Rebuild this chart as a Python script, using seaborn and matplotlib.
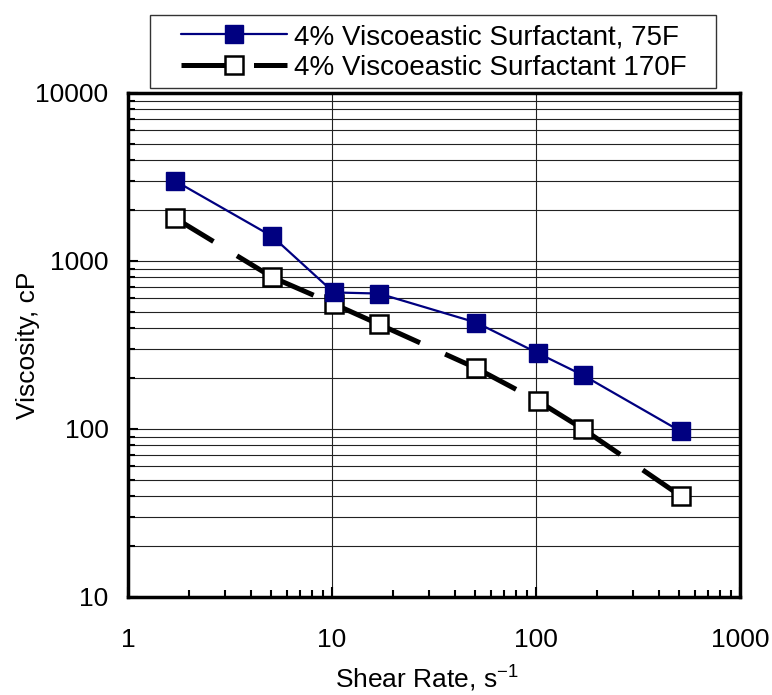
import matplotlib
matplotlib.use("Agg")
import matplotlib.pyplot as plt
import seaborn as sns
import numpy as np
from matplotlib.lines import Line2D
from matplotlib.patches import Rectangle
from matplotlib.ticker import LogLocator, NullFormatter, FixedLocator

shear_75 = [1.7, 5.1, 10.2, 17, 51, 102, 170, 511]
visc_75 = [3000, 1400, 650, 640, 430, 283, 209, 97]
shear_170 = [1.7, 5.1, 10.2, 17, 51, 102, 170, 511]
visc_170 = [1800, 800, 555, 420, 230, 147, 100, 40]
label_75 = "4% Viscoeastic Surfactant, 75F"
label_170 = "4% Viscoeastic Surfactant 170F"
x_ticks = [1, 10, 100, 1000]
y_ticks = [10, 100, 1000, 10000]

sns.set_style("white")
plt.rcParams['font.family'] = ['Liberation Sans', 'DejaVu Sans']
plt.rcParams['mathtext.fontset'] = 'custom'
plt.rcParams['mathtext.rm'] = 'Liberation Sans'
plt.rcParams['mathtext.it'] = 'Liberation Sans'
plt.rcParams['text.color'] = 'black'
plt.rcParams['axes.labelcolor'] = 'black'

fig = plt.figure(figsize=(7.72, 6.95), dpi=100)
ax = fig.add_axes([128/772, 1-597/695, (740-128)/772, (597-93)/695])
ax.set_xscale('log')
ax.set_yscale('log')
ax.set_xlim(1, 1000)
ax.set_ylim(10, 10000)

navy = '#000080'
dash = (9, 5.5)

# series 1
sns.lineplot(x=shear_75, y=visc_75, ax=ax, color=navy, linewidth=1.6,
             sort=False, estimator=None, zorder=4)
# series 2 (dash pattern restarts on each segment)
for i in range(len(shear_170) - 1):
    ax.plot(shear_170[i:i+2], visc_170[i:i+2], color='black', linewidth=3.6,
            dashes=dash, solid_capstyle='butt', dash_capstyle='butt', zorder=3)
ax.plot(shear_75, visc_75, linestyle='none', marker='s', markersize=13.5,
        markerfacecolor=navy, markeredgecolor=navy, zorder=6)
ax.plot(shear_170, visc_170, linestyle='none', marker='s', markersize=13,
        markerfacecolor='white', markeredgecolor='black', markeredgewidth=1.8, zorder=5)

# grid / ticks
ax.yaxis.set_major_locator(FixedLocator(y_ticks))
ax.yaxis.set_minor_locator(LogLocator(base=10, subs=np.arange(2, 10)))
ax.yaxis.set_minor_formatter(NullFormatter())
ax.xaxis.set_major_locator(FixedLocator(x_ticks))
ax.xaxis.set_minor_locator(LogLocator(base=10, subs=np.arange(2, 10)))
ax.xaxis.set_minor_formatter(NullFormatter())
ax.set_yticklabels([str(v) for v in y_ticks])
ax.set_xticklabels([str(v) for v in x_ticks])
ax.grid(True, which='both', axis='y', color='#222222', linewidth=0.8)
ax.grid(True, which='major', axis='x', color='#222222', linewidth=0.8)
ax.set_axisbelow(True)

ax.tick_params(axis='both', which='both', direction='in', colors='black',
               labelsize=19, left=True, bottom=True, top=False, right=False)
ax.tick_params(axis='both', which='major', length=7, width=1.5)
ax.tick_params(axis='both', which='minor', length=5, width=1.5)
ax.tick_params(axis='y', which='major', pad=14)
ax.tick_params(axis='x', which='major', pad=22)

for s in ax.spines.values():
    s.set_color('black')
    s.set_linewidth(2.5)

ax.set_xlabel("Shear Rate, s$^{-1}$", fontsize=19, color='black')
ax.xaxis.set_label_coords(0.489, -0.133)
ax.xaxis.label.set_va('top')
ax.set_ylabel("Viscosity, cP", fontsize=19, color='black')
ax.yaxis.set_label_coords(-0.144, 0.5)

# legend frame
fig.patches.append(Rectangle((150/772, 1-88/695), 566/772, 73/695,
                             transform=fig.transFigure, fill=False,
                             edgecolor='#333333', linewidth=1.0, zorder=10))

handles = [
    Line2D([], [], color=navy, linewidth=1.6, marker='s', markersize=13.5,
           markerfacecolor=navy, markeredgecolor=navy),
    Line2D([], [], color='black', linewidth=3.6, dashes=dash, marker='s', markersize=13,
           markerfacecolor='white', markeredgecolor='black', markeredgewidth=1.8),
]
leg = fig.legend(handles, [label_75, label_170], loc='upper left',
                 bbox_to_anchor=(181/772, 1-24/695), fontsize=20, frameon=False,
                 handlelength=3.8, borderpad=0, labelspacing=0.17,
                 handletextpad=0.25, borderaxespad=0)
for t in leg.get_texts():
    t.set_color('black')

fig.savefig("out.png", dpi=100)
